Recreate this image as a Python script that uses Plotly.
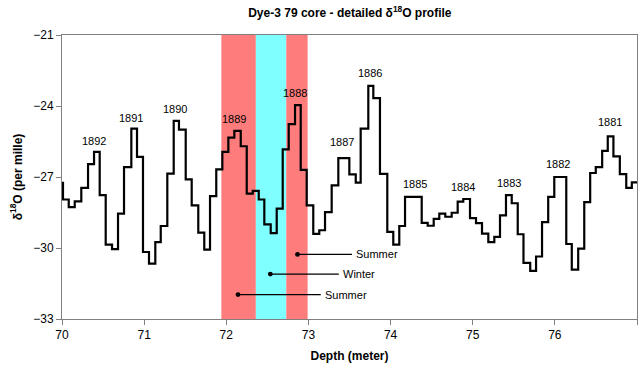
import plotly.graph_objects as go

# Dye-3 79 core: depth (m) at the top of each sample and its delta-18O value (per mille)
depth_top = [
    70.000, 70.012, 70.082, 70.155, 70.235, 70.317, 70.390, 70.459, 70.532, 70.609,
    70.682, 70.755, 70.844, 70.913, 70.986, 71.059, 71.136, 71.202, 71.282, 71.360,
    71.424, 71.506, 71.579, 71.659, 71.732, 71.802, 71.878, 71.952, 72.025, 72.098,
    72.176, 72.249, 72.322, 72.395, 72.463, 72.541, 72.614, 72.687, 72.760, 72.837,
    72.906, 72.979, 73.059, 73.132, 73.202, 73.283, 73.364, 73.498, 73.576, 73.636,
    73.729, 73.790, 73.871, 73.960, 74.033, 74.106, 74.176, 74.379, 74.452, 74.525,
    74.593, 74.666, 74.744, 74.817, 74.885, 74.967, 75.040, 75.113, 75.190, 75.263,
    75.332, 75.405, 75.475, 75.548, 75.618, 75.700, 75.771, 75.844, 75.919, 75.993,
    76.139, 76.206, 76.284, 76.358, 76.430, 76.498, 76.576, 76.644, 76.713, 76.791,
    76.869, 76.937,
]
d18o = [
    -27.25, -27.95, -28.27, -28.03, -27.46, -26.46, -25.94, -27.77, -29.86, -30.05,
    -28.55, -26.58, -24.96, -26.15, -30.17, -30.66, -29.75, -29.07, -26.86, -24.63,
    -25.00, -27.10, -28.20, -29.35, -30.07, -27.81, -26.68, -25.94, -25.34, -25.05,
    -25.70, -27.70, -27.59, -27.95, -29.00, -29.37, -28.34, -25.83, -24.77, -23.96,
    -26.70, -28.20, -29.40, -29.25, -28.48, -27.35, -26.20, -26.89, -27.24, -24.96,
    -23.15, -23.67, -26.87, -29.32, -29.86, -29.07, -27.84, -28.94, -29.06, -28.77,
    -28.55, -28.68, -28.51, -28.04, -27.93, -28.74, -28.95, -29.39, -29.75, -29.53,
    -28.62, -27.77, -28.11, -29.42, -30.63, -30.97, -30.36, -28.91, -27.84, -27.00,
    -29.83, -30.91, -30.03, -28.06, -26.83, -26.58, -25.90, -25.28, -26.13, -26.88,
    -27.46, -27.23,
]
depth_bottom = 77.0

# Annual layers marked above the summer peaks
year_labels = ["1892", "1891", "1890", "1889", "1888", "1887", "1886",
               "1885", "1884", "1883", "1882", "1881"]
year_x = [70.390, 70.844, 71.376, 72.094, 72.837, 73.405, 73.750,
          74.298, 74.886, 75.446, 76.042, 76.671]
year_y = [-25.48, -24.51, -24.14, -24.56, -23.45, -25.52, -22.59,
          -27.31, -27.42, -27.24, -26.46, -24.69]

# Seasonal bands of one year (summer / winter / summer)
band_edges = [71.94, 72.36, 72.73, 72.99]
band_colors = ["#FF7C7C", "#7FFFFF", "#FF7C7C"]

# Season call-outs: dot position, end of the leader line, label
season_labels = ["Summer", "Winter", "Summer"]
season_dot_x = [72.867, 72.536, 72.143]
season_dot_y = [-30.27, -31.10, -31.97]
season_line_end_x = [73.53, 73.37, 73.15]

FONT = "Liberation Sans, Arial, sans-serif"

fig = go.Figure()

fig.add_trace(go.Scatter(
    x=depth_top + [depth_bottom],
    y=d18o + [d18o[-1]],
    mode="lines",
    line=dict(color="black", width=2.2, shape="hv"),
    hoverinfo="skip",
    showlegend=False,
))

shapes = []
for i, c in enumerate(band_colors):
    shapes.append(dict(
        type="rect", xref="x", yref="paper",
        x0=band_edges[i], x1=band_edges[i + 1], y0=0, y1=1,
        fillcolor=c, line=dict(width=0), layer="below",
    ))

annotations = []
for t, x, y in zip(year_labels, year_x, year_y):
    annotations.append(dict(
        x=x, y=y, xref="x", yref="y", text=t, showarrow=False,
        font=dict(family=FONT, size=11, color="black"),
    ))

for t, dx, dy, ex in zip(season_labels, season_dot_x, season_dot_y, season_line_end_x):
    annotations.append(dict(
        x=dx, y=dy, xref="x", yref="y",
        ax=ex, ay=dy, axref="x", ayref="y",
        text=t, xanchor="left", borderpad=3,
        showarrow=True, arrowhead=6, arrowsize=1, arrowwidth=1.2,
        arrowcolor="black",
        font=dict(family=FONT, size=11, color="black"),
    ))

fig.update_layout(
    width=642, height=372,
    margin=dict(l=62, r=5, t=35, b=53),
    paper_bgcolor="white", plot_bgcolor="white",
    font=dict(family=FONT, size=12, color="black"),
    title=dict(
        text="<b>Dye-3 79 core - detailed δ<sup>18</sup>O profile</b>",
        x=0.545, xanchor="center", y=0.965, yanchor="middle",
        font=dict(family=FONT, size=12, color="black"),
    ),
    shapes=shapes,
    annotations=annotations,
    showlegend=False,
)

fig.update_xaxes(
    range=[70, 77], dtick=1, tick0=70,
    showgrid=False, zeroline=False,
    showline=True, linecolor="#808080", linewidth=1, mirror=True,
    ticks="outside", ticklen=5, tickcolor="#808080",
    tickfont=dict(family=FONT, size=12),
    title=dict(text="<b>Depth (meter)</b>", font=dict(family=FONT, size=12), standoff=10),
)
fig.update_yaxes(
    range=[-33, -21], dtick=3, tick0=-33,
    showgrid=False, zeroline=False,
    showline=True, linecolor="#808080", linewidth=1, mirror=True,
    ticks="outside", ticklen=5, tickcolor="#808080",
    tickfont=dict(family=FONT, size=12),
    title=dict(text="<b>δ<sup>18</sup>O (per mille)</b>", font=dict(family=FONT, size=12), standoff=8),
)

fig.write_html("out.html")
